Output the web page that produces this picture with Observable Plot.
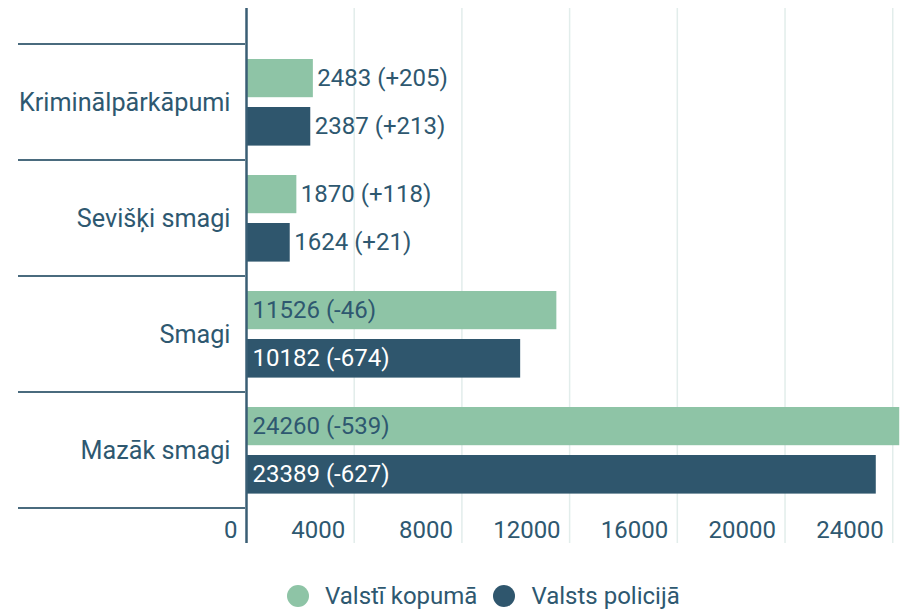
<!DOCTYPE html>
<html>
<head>
<meta charset="utf-8">
<script src="https://cdn.jsdelivr.net/npm/d3@7"></script>
<script src="https://cdn.jsdelivr.net/npm/@observablehq/plot@0.6"></script>
<style>
  html, body { margin: 0; padding: 0; background: #ffffff; }
  body { width: 903px; height: 610px; position: relative; overflow: hidden; font-family: Roboto, sans-serif; }
  #chart { position: absolute; left: 0; top: 0; }
  #legend { position: absolute; left: 287px; top: 582px; display: flex; align-items: center; font-size: 24px; color: #2e5870; font-family: Roboto, sans-serif; }
  .sw { width: 22px; height: 22px; border-radius: 50%; display: inline-block; margin-right: 16px; }
  .item { display: flex; align-items: center; margin-right: 16px; }
</style>
</head>
<body>
<div id="chart"></div>
<div id="legend"></div>
<script>
const categories = ["Kriminālpārkāpumi", "Sevišķi smagi", "Smagi", "Mazāk smagi"];
const seriesNames = ["Valstī kopumā", "Valsts policijā"];
const totalValues = [2483, 1870, 11526, 24260];
const totalChanges = ["+205", "+118", "-46", "-539"];
const policeValues = [2387, 1624, 10182, 23389];
const policeChanges = ["+213", "+21", "-674", "-627"];
const xTicks = [0, 4000, 8000, 12000, 16000, 20000, 24000];
const colors = ["#8ec4a6", "#2f566d"];
const textColor = "#2e5870";

const totalRows = categories.map((c, i) => ({category: c, series: seriesNames[0], value: totalValues[i], change: totalChanges[i]}));
const policeRows = categories.map((c, i) => ({category: c, series: seriesNames[1], value: policeValues[i], change: policeChanges[i]}));

const inside = d => d.value > 6000;
const label = d => `${d.value} (${d.change})`;

function labels(rows, dy, insideFill) {
  return [
    Plot.text(rows.filter(d => !inside(d)), {x: "value", y: "category", text: label, textAnchor: "start", dx: 4, dy, fill: textColor, fontSize: 24}),
    Plot.text(rows.filter(inside), {x: () => 0, y: "category", text: label, textAnchor: "start", dx: 6, dy, fill: insideFill, fontSize: 24})
  ];
}

const chart = Plot.plot({
  width: 903,
  height: 560,
  marginTop: 44,
  marginBottom: 52,
  marginLeft: 246,
  marginRight: 0,
  style: {fontFamily: "Roboto, sans-serif", fontSize: "24px", color: textColor, background: "transparent", overflow: "visible"},
  x: {domain: [0, 24400]},
  y: {domain: categories, padding: 0},
  marks: [
    Plot.ruleX(xTicks.slice(1), {stroke: "#e2edeb", strokeWidth: 1.5, insetTop: -36, insetBottom: -35}),
    Plot.barX(totalRows, {x: "value", y: "category", fill: colors[0], insetTop: 15, insetBottom: 62.8}),
    Plot.barX(policeRows, {x: "value", y: "category", fill: colors[1], insetTop: 63, insetBottom: 14.4}),
    ...labels(totalRows, -24, textColor),
    ...labels(policeRows, 24.3, "#ffffff"),
    Plot.axisX({ticks: xTicks, anchor: "bottom", tickSize: 0, tickPadding: 12, textAnchor: "end", dx: -9, tickFormat: d => String(d), fontSize: 24, fill: textColor, label: null}),
    Plot.axisY({anchor: "left", tickSize: 0, tickPadding: 16, fontSize: 25.2, fill: textColor, label: null}),
    Plot.ruleX([0], {stroke: "#3a5e74", strokeWidth: 2.5, insetTop: -36, insetBottom: -35})
  ]
});
document.getElementById("chart").appendChild(chart);

// category separators drawn from the y scale's band boundaries
const ys = chart.scale("y");
const bounds = categories.map(c => ys.apply(c)).concat([ys.apply(categories[categories.length - 1]) + ys.bandwidth]);
const x0 = chart.scale("x").apply(0);
d3.select(chart).append("g")
  .selectAll("line").data(bounds).join("line")
  .attr("x1", 18).attr("x2", x0 - 1)
  .attr("y1", d => d).attr("y2", d => d)
  .attr("stroke", "#4a6b7e").attr("stroke-width", 2);

const legend = d3.select("#legend");
seriesNames.forEach((s, i) => {
  const it = legend.append("div").attr("class", "item");
  it.append("span").attr("class", "sw").style("background", colors[i]);
  it.append("span").text(s);
});
</script>
</body>
</html>
